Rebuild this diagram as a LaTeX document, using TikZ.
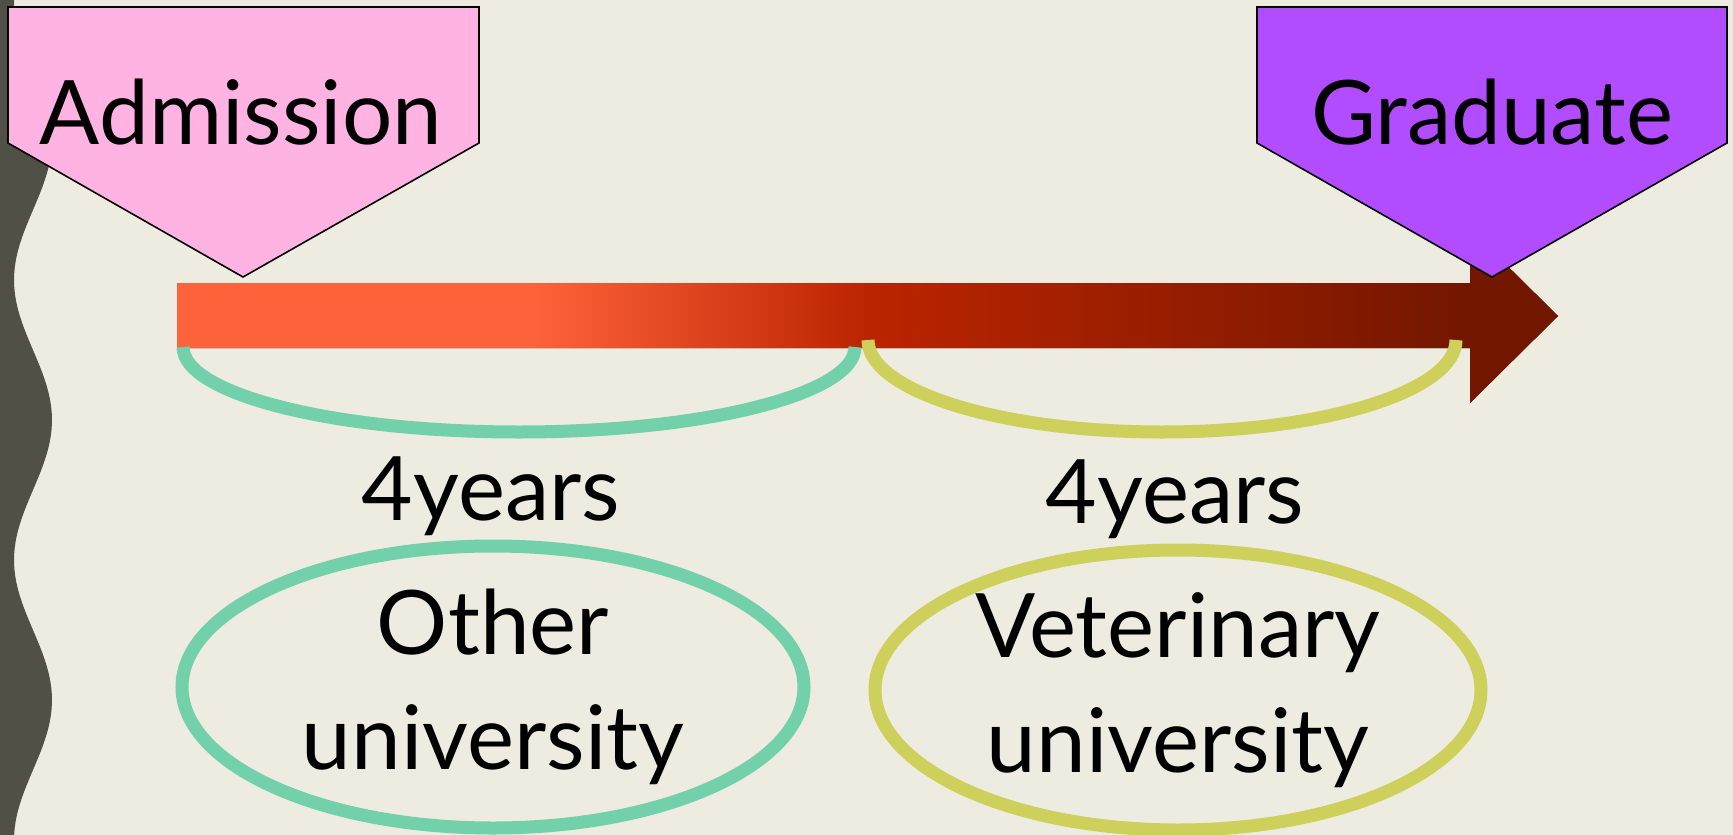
\documentclass[tikz,border=0pt]{standalone}
\usepackage{fontspec}
\setmainfont{Lato}
\usetikzlibrary{shapes.geometric}

\definecolor{paper}{RGB}{238,235,224}
\definecolor{wave}{RGB}{80,80,70}
\definecolor{admpink}{RGB}{255,179,226}
\definecolor{gradpurple}{RGB}{178,77,255}
\definecolor{mint}{RGB}{114,208,171}
\definecolor{olive}{RGB}{205,208,90}
\definecolor{barorange}{RGB}{255,99,60}
\definecolor{barred}{RGB}{187,36,0}
\definecolor{bardark}{RGB}{115,23,0}

\pgfdeclarehorizontalshading{timebar}{100bp}{color(0bp)=(barorange); color(37.7bp)=(barorange); color(50.1bp)=(barred); color(71.8bp)=(bardark); color(100bp)=(bardark)}

\begin{document}
\begin{tikzpicture}[x=1pt, y=-1pt]

\tikzstyle{bigtext}=[font=\fontsize{89}{115}\selectfont, inner sep=0pt]
\tikzstyle{tag}=[draw=black, line width=1.6pt, line join=miter]
\tikzstyle{brace}=[line width=13pt]
\tikzstyle{school}=[ellipse, draw, line width=13pt, align=center, bigtext]

\useasboundingbox (0,0) rectangle (1733,835);
\fill[paper] (0,0) rectangle (1733,835);

% wavy band on the left edge
\fill[wave] (0,0) -- plot[domain=0:835, samples=120] ({33+19*cos(1.2857*(\x-140))}, \x) -- (0,835) -- cycle;

% time line
\fill[shading=timebar] (177,283) -- (1470,283) -- (1470,229) -- (1558,316) -- (1470,403) -- (1470,348) -- (177,348) -- cycle;

\coordinate (g1) at (183,347);
\coordinate (y1) at (868,340);
\draw[brace, mint] (g1) arc[start angle=180, end angle=0, x radius=336, y radius=85];
\draw[brace, olive] (y1) arc[start angle=180, end angle=0, x radius=294, y radius=92];

% tags
\draw[tag, fill=admpink] (8,7) -- (479,7) -- (479,143) -- (243,277) -- (8,143) -- cycle;
\draw[tag, fill=gradpurple] (1257,7) -- (1727,7) -- (1727,143) -- (1492,277) -- (1257,143) -- cycle;

\node (adm) [bigtext, anchor=base] at (241,144) {Admission};
\node (grad) [bigtext, anchor=base] at (1492,144) {Graduate};

\node (yrsA) [bigtext, anchor=base] at (491,520) {4years};
\node (yrsB) [bigtext, anchor=base] at (1175,523) {4years};

\node (other) [school, draw=mint, minimum width=622pt, minimum height=282pt] at (493,687) {Other\\university};
\node (vet) [school, draw=olive, minimum width=606pt, minimum height=280pt] at (1178,690) {Veterinary\\university};

\end{tikzpicture}
\end{document}
